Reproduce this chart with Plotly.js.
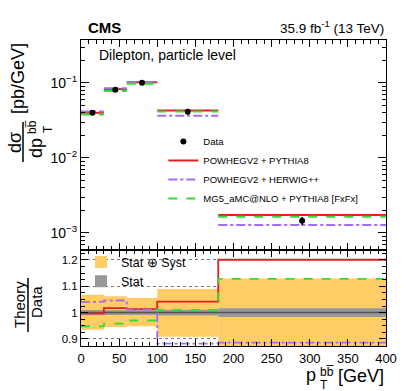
<!DOCTYPE html>
<html>
<head>
<meta charset="utf-8">
<script src="https://cdn.plot.ly/plotly-3.0.1.min.js"></script>
<style>
	body{margin:0;background:#fff;}
	#plot{width:407px;height:391px;}
</style>
</head>
<body>
<div id="plot"></div>
<script>
"use strict";

//DATA
const binEdges = [0, 30, 60, 100, 180, 400];
const dataX = [15, 45, 80, 140, 290];
const dataXsec = [0.0401, 0.0814, 0.101, 0.0414, 0.00145];
const dataErr = [0.0027, 0.0049, 0.0054, 0.0038, 0.00018];

const powPyXsec = [0.0400, 0.0828, 0.1023, 0.0431, 0.00174];
const powHwXsec = [0.0417, 0.0851, 0.1021, 0.0365, 0.00128];
const mg5Xsec = [0.0380, 0.0780, 0.0980, 0.0418, 0.00164];

const powPyRatio = [0.997, 1.017, 1.013, 1.042, 1.201];
const powHwRatio = [1.041, 1.046, 1.011, 0.882, 0.886];
const mg5Ratio = [0.948, 0.958, 0.970, 1.010, 1.128];

const totLow = [0.935, 0.945, 0.948, 0.908, 0.850];
const totHigh = [1.068, 1.062, 1.056, 1.090, 1.130];
const statLow = [0.990, 0.991, 0.991, 0.989, 0.983];
const statHigh = [1.010, 1.009, 1.009, 1.011, 1.017];

const names = ["Data", "POWHEGV2 + PYTHIA8", "POWHEGV2 + HERWIG++", "MG5_aMC@NLO + PYTHIA8 [FxFx]"];
const bandNames = ["Stat \u2295 Syst", "Stat"];

const logTickVals = [1e-3, 1e-2, 1e-1];
const logTickText = ["10<sup>\u22123</sup>", "10<sup>\u22122</sup>", "10<sup>\u22121</sup>"];
const ratioTickVals = [0.9, 1, 1.1, 1.2];
const ratioTickText = ["0.9", "1", "1.1", "1.2"];

const RED = '#dd2222', PURPLE = '#a66cf0', GREEN = '#33dd33';
const ORANGE = '#ffcc66', GREY = '#999999';
const FONT = 'Liberation Sans, Arial, sans-serif';
const BB = 'bb\u0305';

//HELPERS
function segments(vals){
	let x = [], y = [];
	for(let i = 0; i < vals.length; i++){
		x.push(binEdges[i], binEdges[i+1], null);
		y.push(vals[i], vals[i], null);
	}
	return [x, y];
}

function steps(vals){
	return [binEdges.slice(), vals.concat([vals.at(-1)])];
}

function band(lo, hi, name, color){
	const x = [], w = [], h = [];
	for(let i = 0; i < lo.length; i++){
		x.push((binEdges[i] + binEdges[i+1]) / 2);
		w.push(binEdges[i+1] - binEdges[i]);
		h.push(hi[i] - lo[i]);
	}
	return {
		type: 'bar', name: name, x: x, y: h, base: lo, width: w,
		xaxis: 'x2', yaxis: 'y2', legend: 'legend2',
		marker: {color: color, line: {width: 0}},
		hoverinfo: 'skip'
	};
}

function theoTraces(xsec, ratio, name, color, dash, rank){
	const [sx, sy] = segments(xsec);
	const [rx, ry] = steps(ratio);
	return [{
		type: 'scatter', mode: 'lines', name: name, x: sx, y: sy,
		xaxis: 'x', yaxis: 'y', legendrank: rank,
		line: {color: color, width: 2, dash: dash}
	}, {
		type: 'scatter', mode: 'lines', x: rx, y: ry, showlegend: false,
		xaxis: 'x2', yaxis: 'y2',
		line: {color: color, width: 1.8, dash: dash, shape: 'hv'}
	}];
}

//MINOR TICKS
let logMinor = [];
for(let e = -4; e <= 0; e++){
	for(let d = 2; d <= 9; d++) logMinor.push(d * Math.pow(10, e));
}

//TRACES
let graph = [];
graph.push(band(totLow, totHigh, bandNames[0], ORANGE));
graph.push(band(statLow, statHigh, bandNames[1], GREY));
graph.push({
	type: 'scatter', mode: 'lines', x: [binEdges[0], binEdges.at(-1)], y: [1, 1],
	xaxis: 'x2', yaxis: 'y2', showlegend: false,
	line: {color: '#555555', width: 1.5}
});
graph.push(...theoTraces(powPyXsec, powPyRatio, names[1], RED, 'solid', 2));
graph.push(...theoTraces(powHwXsec, powHwRatio, names[2], PURPLE, 'dashdot', 3));
graph.push(...theoTraces(mg5Xsec, mg5Ratio, names[3], GREEN, 'dash', 4));
graph.push({
	type: 'scatter', mode: 'markers', name: names[0], x: dataX, y: dataXsec,
	xaxis: 'x', yaxis: 'y', legendrank: 1,
	marker: {color: 'black', size: 6},
	error_y: {type: 'data', array: dataErr, color: 'black', thickness: 1.5, width: 0}
});

//LAYOUT
const split = 96 / 306;
const px = v => (v - 81) / 305;
const py = v => (346 - v) / 306;

const axBase = {
	showline: true, linecolor: 'black', linewidth: 1, mirror: 'allticks',
	ticks: 'inside', tickcolor: 'black', zeroline: false, showgrid: false,
	tickfont: {family: FONT, size: 13, color: 'black'}
};

const ann = (text, x, y, size, extra) => Object.assign({
	text: text, x: x, y: y, xref: 'paper', yref: 'paper', showarrow: false,
	xanchor: 'center', yanchor: 'middle',
	font: {family: FONT, size: size, color: 'black'}
}, extra || {});

const layout = {
	width: 407, height: 391,
	margin: {l: 81, r: 21, t: 40, b: 45},
	paper_bgcolor: 'white', plot_bgcolor: 'white',
	font: {family: FONT, color: 'black'},
	barmode: 'overlay',
	xaxis: Object.assign({}, axBase, {
		domain: [0, 1], anchor: 'y', range: [0, 400], dtick: 50, ticklen: 7,
		showticklabels: false,
		minor: {ticks: 'inside', dtick: 10, ticklen: 4, tickcolor: 'black'}
	}),
	yaxis: Object.assign({}, axBase, {
		domain: [split, 1], anchor: 'x', type: 'log', range: [-3.227, -0.427],
		tickmode: 'array', tickvals: logTickVals, ticktext: logTickText, ticklen: 8,
		tickfont: {family: FONT, size: 14, color: 'black'},
		minor: {ticks: 'inside', tickvals: logMinor, ticklen: 4, tickcolor: 'black'}
	}),
	xaxis2: Object.assign({}, axBase, {
		domain: [0, 1], anchor: 'y2', range: [0, 400], dtick: 50, ticklen: 7,
		minor: {ticks: 'inside', dtick: 10, ticklen: 4, tickcolor: 'black'}
	}),
	yaxis2: Object.assign({}, axBase, {
		domain: [0, split], anchor: 'x2', range: [0.873, 1.238],
		tickmode: 'array', tickvals: ratioTickVals, ticktext: ratioTickText, ticklen: 7,
		tickfont: {family: FONT, size: 11.5, color: 'black'},
		showgrid: true, gridcolor: '#777777', gridwidth: 1, griddash: 'dot',
		minor: {ticks: 'inside', dtick: 0.025, ticklen: 4, tickcolor: 'black'}
	}),
	legend: {
		x: 0.27, y: 0.716, xanchor: 'left', yanchor: 'top',
		bgcolor: 'rgba(0,0,0,0)', font: {family: FONT, size: 9.5, color: 'black'},
		traceorder: 'normal'
	},
	legend2: {
		x: 0.0, y: 0.322, xanchor: 'left', yanchor: 'top',
		bgcolor: 'rgba(0,0,0,0)', font: {family: FONT, size: 12.5, color: 'black'}
	},
	annotations: [
		ann('<b>CMS</b>', 0.016, 1.005, 15, {xanchor: 'left', yanchor: 'bottom'}),
		ann('35.9 fb<sup>-1</sup> (13 TeV)', 1, 1.005, 13.5, {xanchor: 'right', yanchor: 'bottom'}),
		ann('Dilepton, particle level', 0.052, 0.951, 14, {xanchor: 'left'}),
		// y title, upper panel
		ann('[pb/GeV]', px(18), py(78), 18, {textangle: -90}),
		ann('d\u03c3', px(15), py(143), 18, {textangle: -90}),
		ann('dp', px(36), py(148), 18, {textangle: -90}),
		ann(BB, px(32), py(127), 12, {textangle: -90}),
		ann('T', px(48), py(129), 12, {textangle: -90}),
		// y title, lower panel
		ann('Theory', px(19), py(305), 15, {textangle: -90}),
		ann('Data', px(36), py(302), 15, {textangle: -90}),
		// x title
		ann('[GeV]', 1, py(376), 18, {xanchor: 'right'}),
		ann('p', px(318), py(375), 18, {xanchor: 'right'}),
		ann(BB, px(318), py(372), 12, {xanchor: 'left'}),
		ann('T', px(318), py(385), 12, {xanchor: 'left'})
	],
	shapes: [
		{type: 'line', xref: 'paper', yref: 'paper', x0: px(23), x1: px(23),
			y0: py(122), y1: py(162), line: {color: 'black', width: 1.5}},
		{type: 'line', xref: 'paper', yref: 'paper', x0: px(28), x1: px(28),
			y0: py(278), y1: py(332), line: {color: 'black', width: 1.5}}
	]
};

Plotly.newPlot('plot', graph, layout, {displayModeBar: false, staticPlot: true});
</script>
</body>
</html>
